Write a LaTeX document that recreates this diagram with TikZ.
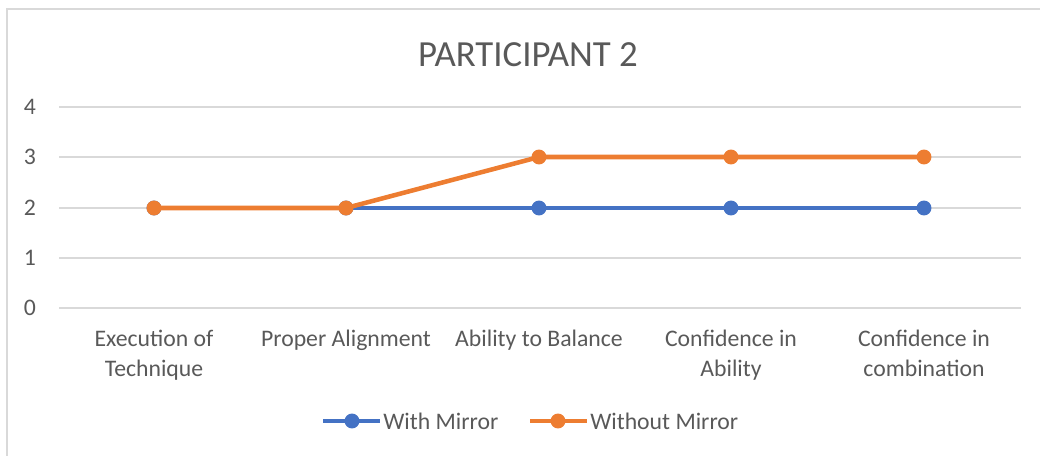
\documentclass[tikz,border=0pt]{standalone}
\usepackage{fontspec}
\setmainfont{Carlito}
\definecolor{txt}{HTML}{595959}
\definecolor{gridc}{HTML}{D9D9D9}
\definecolor{ser1}{HTML}{4472C4}
\definecolor{ser2}{HTML}{ED7D31}
\begin{document}
\begin{tikzpicture}[x=0.75pt,y=-0.75pt,
  lbl/.style={text=txt,font=\fontsize{17.8}{22.5}\selectfont,inner sep=0pt},
  catlbl/.style={lbl,align=center,anchor=north},
  titlelbl/.style={text=txt,font=\fontsize{27.6}{30}\selectfont,inner sep=0pt},
  gridline/.style={draw=gridc,line width=1.4pt},
  serline/.style={line width=3.4pt},
  mk/.style={circle,inner sep=0pt,minimum size=11.2pt,draw=none}]
\useasboundingbox (0,0) rectangle (1040,455);
% chart border
\draw[gridc,line width=1.5pt] (7,470) -- (7,9) -- (1050,9);
% title
\node[titlelbl] (title) at (528,55) {PARTICIPANT 2};
% gridlines and value labels
\foreach \v/\y in {0/308,1/258,2/208,3/157,4/107}{
  \draw[gridline] (59,\y) -- (1021,\y);
  \node[lbl] (y\v) at (30,\y) {\v};
}
% categories
\node[catlbl] (c1) at (154,330) {Execution of\\Technique};
\node[catlbl] (c2) at (346,330) {Proper Alignment};
\node[catlbl] (c3) at (539,330) {Ability to Balance};
\node[catlbl] (c4) at (731,330) {Confidence in\\Ability};
\node[catlbl] (c5) at (924,330) {Confidence in\\combination};
% data points
\coordinate (b1) at (154,208);
\coordinate (b2) at (346,208);
\coordinate (b3) at (539,208);
\coordinate (b4) at (731,208);
\coordinate (b5) at (924,208);
\coordinate (o1) at (154,208);
\coordinate (o2) at (346,208);
\coordinate (o3) at (539,157);
\coordinate (o4) at (731,157);
\coordinate (o5) at (924,157);
% series 1
\draw[serline,ser1] (b1) -- (b2) -- (b3) -- (b4) -- (b5);
\foreach \i in {1,...,5}{\node[mk,fill=ser1] (bm\i) at (b\i) {};}
% series 2
\draw[serline,ser2,line join=round] (o1) -- (o2) -- (o3) -- (o4) -- (o5);
\foreach \i in {1,...,5}{\node[mk,fill=ser2] (om\i) at (o\i) {};}
% legend
\coordinate (l1a) at (323,421);
\coordinate (l1b) at (380,421);
\draw[serline,ser1] (l1a) -- (l1b);
\node[mk,fill=ser1] (lm1) at (352,421) {};
\node[lbl,anchor=west] (lt1) at (383,421) {With Mirror};
\coordinate (l2a) at (530,421);
\coordinate (l2b) at (587,421);
\draw[serline,ser2] (l2a) -- (l2b);
\node[mk,fill=ser2] (lm2) at (558,421) {};
\node[lbl,anchor=west] (lt2) at (590,421) {Without Mirror};
\end{tikzpicture}
\end{document}
